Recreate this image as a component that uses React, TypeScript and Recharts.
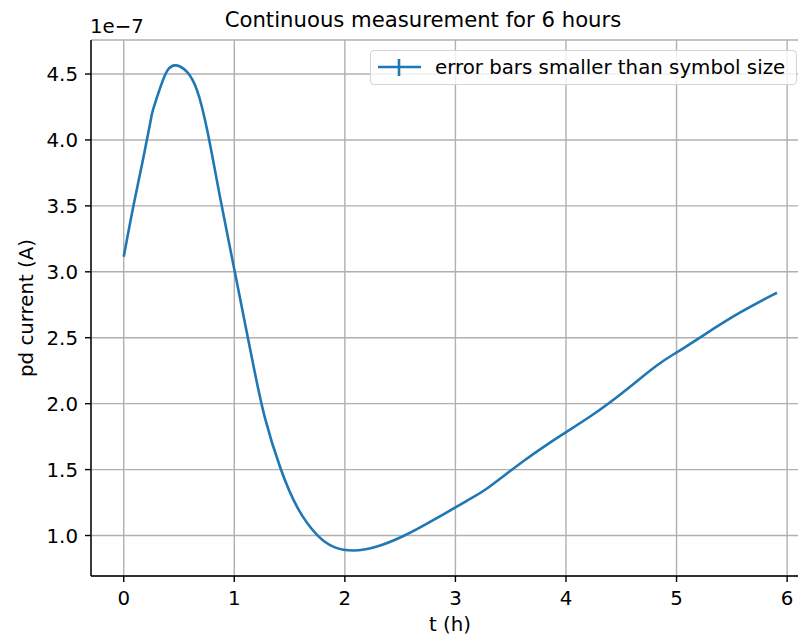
import React from 'react';
import { LineChart, Line, XAxis, YAxis, CartesianGrid, Legend } from 'recharts';

// time in hours and pd current in units of 1e-7 A
const tHours = [
  0, 0.09, 0.181, 0.226, 0.248, 0.252, 0.332, 0.392, 0.467, 0.573, 0.664, 0.754, 0.874,
  1.0, 1.085, 1.175, 1.266, 1.417, 1.568, 1.749, 1.899, 2.08, 2.26, 2.53, 2.8, 3.135,
  3.255, 3.617, 3.978, 4.22, 4.49, 4.853, 4.99, 5.244, 5.576, 5.908,
];
const current = [
  3.114, 3.519, 3.873, 4.075, 4.16, 4.2, 4.404, 4.543, 4.58, 4.53, 4.404, 4.1, 3.544,
  3.02, 2.659, 2.279, 1.9, 1.495, 1.192, 0.99, 0.901, 0.879, 0.901, 0.99, 1.116, 1.28,
  1.331, 1.571, 1.774, 1.9, 2.065, 2.317, 2.38, 2.52, 2.697, 2.841,
];
const xTicks = [0, 1, 2, 3, 4, 5, 6];
const yTicks = [1.0, 1.5, 2.0, 2.5, 3.0, 3.5, 4.0, 4.5];
const seriesName = 'error bars smaller than symbol size';

const data = tHours.map((t, i) => ({ t, current: current[i] }));

const FONT = '"DejaVu Sans", sans-serif';
const BLUE = '#1f77b4';
const FS = 19.8;

const XTick = (props: any) => (
  <text x={props.x} y={605} textAnchor="middle" fontSize={FS} fontFamily={FONT} fill="#000">
    {props.payload.value}
  </text>
);

const YTick = (props: any) => (
  <text x={78} y={props.y} dy="0.36em" textAnchor="end" fontSize={FS} fontFamily={FONT} fill="#000">
    {Number(props.payload.value).toFixed(1)}
  </text>
);

const LegendBox = () => (
  <div
    style={{
      width: 425,
      height: 33,
      border: '1px solid #d4d4d4',
      borderRadius: 4,
      background: 'rgba(255,255,255,0.8)',
      display: 'flex',
      alignItems: 'center',
      fontFamily: FONT,
      fontSize: FS,
      color: '#000',
      boxSizing: 'content-box',
    }}
  >
    <svg width={58} height={33} style={{ display: 'block', flex: 'none' }}>
      <line x1={7} x2={50} y1={16} y2={16} stroke={BLUE} strokeWidth={2.6} />
      <line x1={28} x2={28} y1={8} y2={25} stroke={BLUE} strokeWidth={2.6} />
    </svg>
    <span style={{ marginLeft: 6, whiteSpace: 'nowrap' }}>{seriesName}</span>
  </div>
);

export default function App() {
  return (
    <div style={{ position: 'absolute', left: 0, top: 0, width: 798, height: 637, overflow: 'hidden', background: '#fff' }}>
      <LineChart width={812} height={637} data={data} margin={{ top: 40, right: 1, bottom: 0, left: 0 }}>
        <CartesianGrid stroke="#b0b0b0" strokeWidth={1.4} />
        <XAxis
          dataKey="t"
          type="number"
          domain={[-0.296, 6.216]}
          ticks={xTicks}
          height={61}
          tick={<XTick />}
          tickSize={6}
          tickLine={{ stroke: '#000', strokeWidth: 1.4 }}
          axisLine={{ stroke: '#000', strokeWidth: 1.4 }}
          allowDataOverflow
        />
        <XAxis
          xAxisId="top"
          orientation="top"
          type="number"
          domain={[-0.296, 6.216]}
          height={0}
          tick={false}
          tickLine={false}
          axisLine={{ stroke: '#000', strokeWidth: 1.4 }}
        />
        <YAxis
          type="number"
          domain={[0.693, 4.758]}
          ticks={yTicks}
          width={91}
          tick={<YTick />}
          tickSize={6}
          tickLine={{ stroke: '#000', strokeWidth: 1.4 }}
          axisLine={{ stroke: '#000', strokeWidth: 1.4 }}
          allowDataOverflow
        />
        <Legend
          layout="vertical"
          align="center"
          verticalAlign="middle"
          content={<LegendBox />}
          wrapperStyle={{ left: 370, top: 50, width: 'auto', height: 'auto' }}
        />
        <Line
          dataKey="current"
          name={seriesName}
          type="basis"
          stroke={BLUE}
          strokeWidth={2.6}
          dot={false}
          activeDot={false}
          isAnimationActive={false}
        />
        <text x={423} y={27} textAnchor="middle" fontSize={21.2} fontFamily={FONT} fill="#000">
          Continuous measurement for 6 hours
        </text>
        <text x={90} y={33} fontSize={FS} fontFamily={FONT} fill="#000">
          1e−7
        </text>
        <text x={450} y={631} textAnchor="middle" fontSize={FS} fontFamily={FONT} fill="#000">
          t (h)
        </text>
        <text
          x={33}
          y={308}
          textAnchor="middle"
          fontSize={FS}
          fontFamily={FONT}
          fill="#000"
          transform="rotate(-90 33 308)"
        >
          pd current (A)
        </text>
      </LineChart>
    </div>
  );
}
